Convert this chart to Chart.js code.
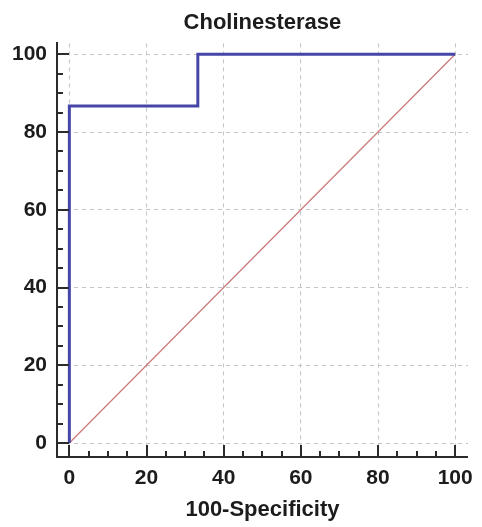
<!DOCTYPE html>
<html>
<head>
<meta charset="utf-8">
<script src="https://cdn.jsdelivr.net/npm/chart.js@4"></script>
<style>
  html, body { margin: 0; padding: 0; background: #fff; }
  #wrap { width: 482px; height: 527px; }
</style>
</head>
<body>
<div id="wrap"><canvas id="rocChart" width="482" height="527"></canvas></div>
<script>
  // ROC curve points (100-Specificity, Sensitivity)
  const fpr = [0, 0, 33.3, 33.3, 100];
  const sensitivity = [0, 86.7, 86.7, 100, 100];
  const refX = [0, 100];
  const refY = [0, 100];
  const xTicks = [0, 20, 40, 60, 80, 100];
  const yTicks = [0, 20, 40, 60, 80, 100];

  const textColor = '#1c1c1c';
  const axisColor = '#2b2b2b';
  const fontFamily = 'Liberation Sans, Arial, sans-serif';

  // inward major + minor ticks, like the original plot
  const innerTicks = {
    id: 'innerTicks',
    afterLayout(chart) {
      // center the title over the plot area, not the whole canvas
      if (chart.titleBlock) {
        chart.titleBlock.left = chart.chartArea.left;
        chart.titleBlock.right = chart.chartArea.right;
      }
    },
    afterDraw(chart) {
      const { ctx, chartArea, scales } = chart;
      ctx.save();
      ctx.strokeStyle = axisColor;
      ctx.lineWidth = 2;
      for (let v = 0; v <= 100; v += 5) {
        const major = v % 20 === 0;
        const len = major ? 12 : 6;
        const y = Math.round(scales.y.getPixelForValue(v));
        ctx.beginPath();
        ctx.moveTo(chartArea.left, y);
        ctx.lineTo(chartArea.left + len, y);
        ctx.stroke();
        const x = Math.round(scales.x.getPixelForValue(v));
        ctx.beginPath();
        ctx.moveTo(x, chartArea.bottom);
        ctx.lineTo(x, chartArea.bottom - len);
        ctx.stroke();
      }
      ctx.restore();
    }
  };

  const ctx = document.getElementById('rocChart').getContext('2d');
  new Chart(ctx, {
    type: 'scatter',
    data: {
      datasets: [{
        data: fpr.map((x, i) => ({ x: x, y: sensitivity[i] })),
        showLine: true,
        borderColor: '#4646a8',
        borderWidth: 3,
        pointRadius: 0,
        fill: false
      }, {
        data: refX.map((x, i) => ({ x: x, y: refY[i] })),
        showLine: true,
        borderColor: '#c87878',
        borderWidth: 1.2,
        pointRadius: 0,
        fill: false
      }]
    },
    options: {
      responsive: false,
      animation: false,
      layout: { padding: { left: 0, right: 10, top: 0, bottom: 0 } },
      plugins: {
        legend: { display: false },
        tooltip: { enabled: false },
        title: {
          display: true,
          text: 'Cholinesterase',
          color: textColor,
          font: { family: fontFamily, size: 22, weight: 'bold' },
          padding: { top: 10, bottom: 7 }
        }
      },
      scales: {
        x: {
          type: 'linear',
          min: -3.2,
          max: 103.3,
          afterBuildTicks: s => { s.ticks = xTicks.map(v => ({ value: v })); },
          afterFit: s => { s.height = 70; },
          ticks: {
            color: textColor,
            padding: 9,
            maxRotation: 0,
            font: { family: fontFamily, size: 21, weight: 'bold' }
          },
          grid: { color: '#c4c4c4', lineWidth: 1, drawTicks: false },
          border: { display: true, color: axisColor, width: 2, dash: [4, 4] },
          title: {
            display: true,
            text: '100-Specificity',
            color: textColor,
            padding: { top: 0, bottom: 4 },
            font: { family: fontFamily, size: 22, weight: 'bold' }
          }
        },
        y: {
          type: 'linear',
          min: -3.6,
          max: 102.8,
          afterBuildTicks: s => { s.ticks = yTicks.map(v => ({ value: v })); },
          afterFit: s => { s.width = 57; },
          ticks: {
            color: textColor,
            padding: 10,
            font: { family: fontFamily, size: 21, weight: 'bold' }
          },
          grid: { color: '#c4c4c4', lineWidth: 1, drawTicks: false },
          border: { display: true, color: axisColor, width: 2, dash: [4, 4] }
        }
      }
    },
    plugins: [innerTicks]
  });
</script>
</body>
</html>
